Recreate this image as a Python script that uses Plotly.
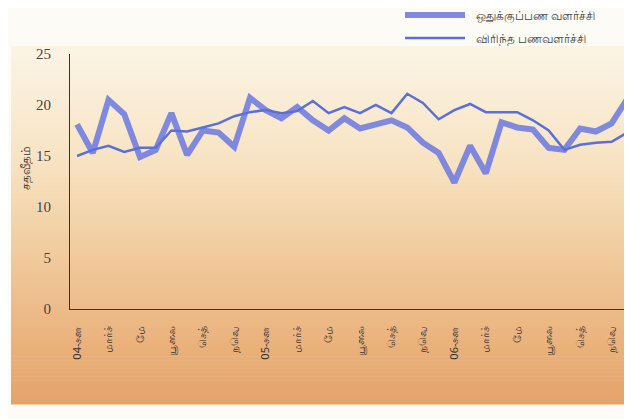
import plotly.graph_objects as go

# monthly growth, Jan 2004 - Dec 2006 (per cent)
reserve_money = [18.1, 15.3, 20.5, 19.1, 14.9, 15.6, 19.2, 15.1, 17.5, 17.3, 15.9, 20.7,
                 19.5, 18.7, 19.8, 18.5, 17.5, 18.7, 17.7, 18.1, 18.5, 17.8, 16.3, 15.3,
                 12.4, 16.0, 13.3, 18.3, 17.8, 17.6, 15.8, 15.6, 17.7, 17.4, 18.2, 20.6]
broad_money = [15.0, 15.6, 16.0, 15.4, 15.8, 15.8, 17.5, 17.4, 17.8, 18.2, 18.9, 19.3,
               19.5, 19.2, 19.4, 20.4, 19.2, 19.8, 19.2, 20.0, 19.2, 21.1, 20.2, 18.6,
               19.5, 20.1, 19.3, 19.3, 19.3, 18.5, 17.5, 15.6, 16.1, 16.3, 16.4, 17.3]
tick_labels = ['04-சன', 'மார்ச்', 'மே', 'யூலை', 'செத்', 'நவெ',
               '05-சன', 'மார்ச்', 'மே', 'யூலை', 'செத்', 'நவெ',
               '06-சன', 'மார்ச்', 'மே', 'யூலை', 'செத்', 'நவெ']
y_ticks = [0, 5, 10, 15, 20, 25]
names = ['ஒதுக்குப்பண வளர்ச்சி', 'விரிந்த பணவளர்ச்சி']
y_title = 'சதவீதம்'

months = list(range(len(reserve_money)))
# the page body has an 8px margin, so the figure starts at (8, 8) in the window
OFF = 8
W, H = 632 - OFF, 419 - OFF
L, R, T, B = 70 - OFF, 0, 54 - OFF, 419 - 309
pw, ph = W - L - R, H - T - B
THICK = dict(color='rgba(116,128,224,0.92)', width=6)
THIN = dict(color='#5b6fd9', width=2.5)


def px_x(x):
    # window pixel -> paper x
    return (x - OFF - L) / pw


def px_y(y):
    # window pixel -> paper y
    return (H - B - (y - OFF)) / ph


fig = go.Figure()
fig.add_trace(go.Scatter(x=months, y=reserve_money, mode='lines', name=names[0], line=THICK))
fig.add_trace(go.Scatter(x=months, y=broad_money, mode='lines', name=names[1], line=THIN))


def mix(stops, t):
    for (t0, c0), (t1, c1) in zip(stops, stops[1:]):
        if t0 <= t <= t1:
            f = (t - t0) / (t1 - t0) if t1 > t0 else 0
            return 'rgb(%d,%d,%d)' % tuple(round(a + (b - a) * f) for a, b in zip(c0, c1))
    return 'rgb(%d,%d,%d)' % stops[-1][1]


# scanned page background: cream at top shading to tan-orange at bottom
stops = [(46, (251, 244, 230)), (150, (248, 229, 198)), (250, (241, 204, 158)),
         (350, (234, 176, 122)), (404, (228, 162, 106))]
shapes = []
top, bot, n = 46, 404, 90
step = (bot - top) / n
for i in range(n):
    y0p = top + i * step
    y1p = y0p + step + 0.6
    shapes.append(dict(type='rect', xref='paper', yref='paper', layer='below',
                       x0=px_x(11), x1=1.01, y0=px_y(y1p), y1=px_y(y0p),
                       line_width=0, fillcolor=mix(stops, y0p + step / 2)))

# legend drawn by hand (long sample lines as in the original)
annotations = []
for name, style, ly in [(names[0], THICK, 15), (names[1], THIN, 38)]:
    shapes.append(dict(type='line', xref='paper', yref='paper', x0=px_x(405), x1=px_x(465),
                       y0=px_y(ly), y1=px_y(ly), line=style))
    annotations.append(dict(xref='paper', yref='paper', x=px_x(474), y=px_y(ly), text=name,
                            showarrow=False, xanchor='left', yanchor='middle',
                            font=dict(family='Noto Sans, DejaVu Sans', size=12, color='#444')))

# y axis title, sitting a little above the middle as in the original
annotations.append(dict(xref='paper', yref='paper', x=px_x(25), y=px_y(168), text=y_title,
                        textangle=-90, showarrow=False, xanchor='center', yanchor='middle',
                        font=dict(family='Noto Sans, DejaVu Sans', size=12, color='#333')))

fig.update_layout(
    width=W, height=H,
    margin=dict(l=L, r=R, t=T, b=B, autoexpand=False),
    paper_bgcolor='#fdfbf5',
    plot_bgcolor='rgba(0,0,0,0)',
    shapes=shapes,
    annotations=annotations,
    showlegend=False,
    font=dict(family='Liberation Serif, DejaVu Serif', color='#333'),
)
fig.update_xaxes(range=[-0.45, 35.3], tickvals=months[::2], ticktext=tick_labels,
                 tickangle=-90, tickfont=dict(family='Noto Sans, DejaVu Sans', size=11, color='#333'),
                 showgrid=False, zeroline=False, showline=True, linecolor='#333', linewidth=1.2,
                 ticks='', ticklabelstandoff=12, automargin=False)
fig.update_yaxes(range=[0, 25], tickvals=y_ticks, showgrid=False, zeroline=False,
                 showline=True, linecolor='#333', linewidth=1.2, ticks='',
                 ticklabelstandoff=15, automargin=False,
                 tickfont=dict(family='Liberation Serif', size=15, color='#444'))

fig.write_html("out.html")
